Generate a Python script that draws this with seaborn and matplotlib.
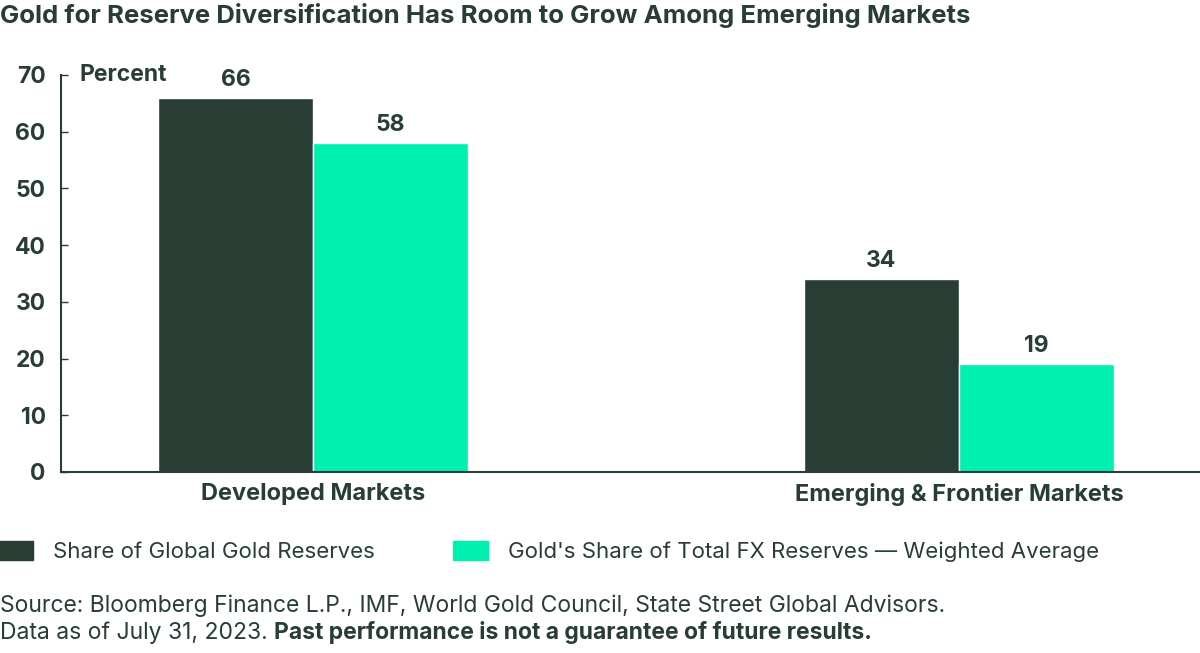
import pandas as pd
import matplotlib.pyplot as plt
import seaborn as sns
from matplotlib.patches import Patch

# Data
markets = ['Developed Markets', 'Emerging & Frontier Markets']
share_global_gold = [66, 34]
gold_share_fx = [58, 19]
series_names = ['Share of Global Gold Reserves',
                "Gold's Share of Total FX Reserves \u2014 Weighted Average"]

DARK = '#283d33'
TEAL = '#00f0b0'


def main():
    sns.set_theme(style='white')
    plt.rcParams['font.family'] = ['Inter', 'DejaVu Sans']

    df = pd.DataFrame({
        'market': markets * 2,
        'series': [series_names[0]] * 2 + [series_names[1]] * 2,
        'value': share_global_gold + gold_share_fx,
    })

    fig = plt.figure(figsize=(12, 6.53), dpi=100)
    ax = fig.add_axes([0.0508, 0.2772, 0.9492, 0.608])

    sns.barplot(data=df, x='market', y='value', hue='series',
                palette=[DARK, TEAL], width=0.48, gap=0,
                saturation=1, ax=ax, legend=False)

    for cont in ax.containers:
        ax.bar_label(cont, fmt='%d', padding=5, fontsize=16.5,
                     fontweight='bold', color=DARK)

    ax.set_ylim(0, 70)
    ax.set_xlim(-0.39, 1.373)
    ax.set_yticks(range(0, 71, 10))
    ax.set_xlabel('')
    ax.set_ylabel('')
    sns.despine(ax=ax)
    ax.spines['left'].set_color(DARK)
    ax.spines['bottom'].set_color(DARK)
    ax.spines['left'].set_linewidth(1.5)
    ax.spines['bottom'].set_linewidth(1.5)
    ax.tick_params(axis='y', direction='in', length=5, width=1, color=DARK,
                   left=True, labelsize=16.5, labelcolor=DARK, pad=11)
    ax.tick_params(axis='x', length=0, labelsize=17, labelcolor=DARK, pad=8)
    for lab in ax.get_yticklabels() + ax.get_xticklabels():
        lab.set_fontweight('bold')

    ax.text(0.016, 70, 'Percent', transform=ax.get_yaxis_transform(),
            fontsize=16.5, fontweight='bold', color=DARK, va='center')

    fig.text(0.0, 0.977, 'Gold for Reserve Diversification Has Room to Grow Among Emerging Markets',
             fontsize=18.5, fontweight='bold', color=DARK, va='center', ha='left')

    handles = [Patch(color=DARK), Patch(color=TEAL)]
    fig.legend(handles, series_names, loc='center left',
               bbox_to_anchor=(-0.002, 0.156), ncol=2, frameon=False,
               fontsize=16, labelcolor=DARK, handlelength=1.6,
               handleheight=0.95, handletextpad=0.9, columnspacing=3.5,
               borderpad=0, borderaxespad=0)

    fig.text(0.0, 0.072, 'Source: Bloomberg Finance L.P., IMF, World Gold Council, State Street Global Advisors.',
             fontsize=16.5, color=DARK, va='center')
    t1 = fig.text(0.0, 0.031, 'Data as of July 31, 2023. ', fontsize=16.5,
                  color=DARK, va='center')
    fig.canvas.draw()
    bb = t1.get_window_extent().transformed(fig.transFigure.inverted())
    fig.text(bb.x1, 0.031, 'Past performance is not a guarantee of future results.',
             fontsize=16.5, fontweight='bold', color=DARK, va='center')

    fig.savefig('out.png', dpi=100)


if __name__ == '__main__':
    main()
